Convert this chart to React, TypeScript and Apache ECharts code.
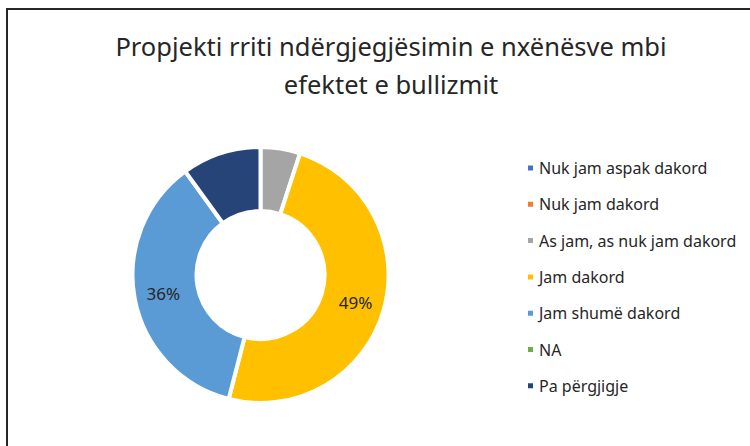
import React, { useEffect, useRef } from "react";
import * as echarts from "echarts";

const TITLE = "Propjekti rriti ndërgjegjësimin e nxënësve mbi\nefektet e bullizmit";
const categories = [
  "Nuk jam aspak dakord",
  "Nuk jam dakord",
  "As jam, as nuk jam dakord",
  "Jam dakord",
  "Jam shumë dakord",
  "NA",
  "Pa përgjigje",
];
const values = [0, 0, 5, 49, 36, 0, 10];
const showLabel = [false, false, false, true, true, false, false];
const colors = ["#4472C4", "#ED7D31", "#A5A5A5", "#FFC000", "#5B9BD5", "#70AD47", "#264478"];

const FONT = "'Noto Sans', 'Open Sans', sans-serif";

export default function App() {
  const ref = useRef<HTMLDivElement>(null);
  useEffect(() => {
    if (!ref.current) return;
    const chart = echarts.init(ref.current, undefined, { renderer: "svg" });
    chart.setOption({
      animation: false,
      backgroundColor: "#ffffff",
      color: colors,
      title: {
        text: TITLE,
        left: 386,
        top: 22,
        textAlign: "center",
        textStyle: {
          fontFamily: FONT,
          fontSize: 25.5,
          fontWeight: "normal",
          color: "#262626",
          lineHeight: 38,
        },
      },
      legend: {
        orient: "vertical",
        left: 521,
        top: 154,
        itemWidth: 7,
        itemHeight: 7,
        itemGap: 18.3,
        icon: "rect",
        data: categories,
        textStyle: {
          fontFamily: FONT,
          fontSize: 16,
          color: "#262626",
          lineHeight: 18,
          padding: [0, 0, 0, 0],
        },
      },
      graphic: [
        {
          type: "rect",
          shape: { x: 7, y: 9, width: 780, height: 480 },
          style: { fill: "none", stroke: "#262626", lineWidth: 2 },
          silent: true,
        },
      ],
      series: [
        {
          type: "pie",
          center: [260.5, 275],
          radius: [64, 128],
          startAngle: 90,
          clockwise: true,
          avoidLabelOverlap: false,
          percentPrecision: 0,
          itemStyle: { borderColor: "#ffffff", borderWidth: 4 },
          label: {
            show: true,
            position: "inside",
            formatter: "{d}%",
            fontFamily: FONT,
            fontSize: 17,
            color: "#262626",
          },
          labelLine: { show: false },
          emphasis: { disabled: true },
          data: categories.map((name, i) => ({
            name,
            value: values[i],
            label: { show: showLabel[i] },
          })),
        },
      ],
    });
    return () => chart.dispose();
  }, []);
  return (
    <div
      ref={ref}
      style={{ position: "fixed", left: 0, top: 0, width: 750, height: 446 }}
    />
  );
}
